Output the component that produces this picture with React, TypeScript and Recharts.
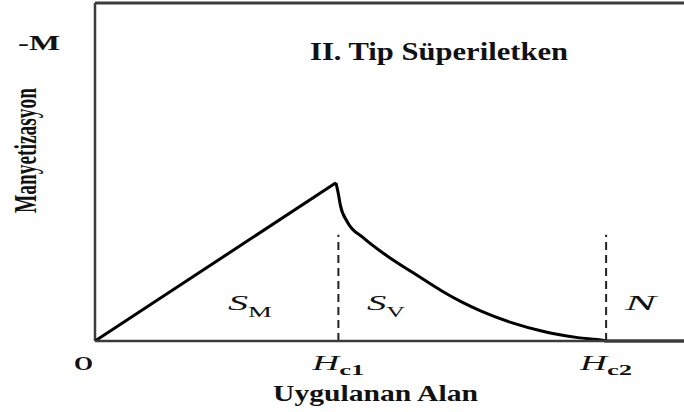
import { LineChart, Line, XAxis, YAxis, ReferenceLine } from 'recharts'

// applied field (in units of Hc1) and -M for the Meissner rise
const riseH = [0, 0.99]
const riseM = [0, 0.468]

// mixed (vortex) state: -M falls from Hc1 to zero at Hc2, then stays at zero
const fallH = [0.99, 1.0, 1.008, 1.037, 1.103, 1.202, 1.309, 1.432, 1.502, 1.584, 1.708, 1.844, 1.984, 2.09, 2.1, 2.42]
const fallM = [0.468, 0.435, 0.402, 0.352, 0.305, 0.251, 0.201, 0.145, 0.117, 0.089, 0.055, 0.028, 0.01, 0.0015, 0, 0]

const HC1 = 1
const HC2 = 2.1
const fieldTicks = [0, HC1, HC2]
const tickSubs = ['', 'c1', 'c2']
const dashTop = 0.314

const riseData = riseH.map((h, i) => ({ h, m: riseM[i] }))
const fallData = fallH.map((h, i) => ({ h, m: fallM[i] }))

const serif = 'Liberation Serif, Times New Roman, serif'
const axisColor = '#3c3c3c'

function FieldTick({ x, y, payload, index }: any) {
  const base = y + 21
  if (payload.value === 0) {
    return (
      <text x={x - 21} y={base} style={{ fontFamily: serif }} fontWeight="bold" fontSize={19} fill="#111" textLength={19} lengthAdjust="spacingAndGlyphs">
        O
      </text>
    )
  }
  return (
    <text x={x - 26} y={base} style={{ fontFamily: serif }} fill="#111" textLength={52} lengthAdjust="spacingAndGlyphs">
      <tspan fontStyle="italic" fontSize={21}>H</tspan>
      <tspan fontSize={15} fontWeight="bold" dy={5}>{tickSubs[index]}</tspan>
    </text>
  )
}

export default function App() {
  return (
    <div style={{ position: 'absolute', left: 0, top: 0, width: 684, height: 412, background: '#fff' }}>
      <LineChart width={684} height={412} margin={{ top: 3, right: 0, bottom: 41, left: 95 }}>
        <XAxis
          type="number"
          dataKey="h"
          domain={[0, 2.42]}
          ticks={fieldTicks}
          tick={<FieldTick />}
          tickLine={false}
          height={30}
          axisLine={{ stroke: axisColor, strokeWidth: 2.5 }}
          allowDataOverflow
        />
        <YAxis hide type="number" domain={[0, 1]} />
        <ReferenceLine x={0} stroke={axisColor} strokeWidth={2.5} />
        <ReferenceLine y={1} stroke={axisColor} strokeWidth={3} />
        <ReferenceLine segment={[{ x: HC1, y: 0 }, { x: HC1, y: dashTop }]} stroke="#222" strokeWidth={2} strokeDasharray="8 5" />
        <ReferenceLine segment={[{ x: HC2, y: 0 }, { x: HC2, y: dashTop }]} stroke="#222" strokeWidth={2} strokeDasharray="8 5" />
        <Line data={riseData} dataKey="m" type="linear" stroke="#000" strokeWidth={3} dot={false} isAnimationActive={false} />
        <Line data={fallData} dataKey="m" type="monotoneX" stroke="#000" strokeWidth={3} dot={false} isAnimationActive={false} />
      </LineChart>
      <svg width={684} height={412} style={{ position: 'absolute', left: 0, top: 0, pointerEvents: 'none', fontFamily: serif }}>
        <g fill="#111">
          <text x={18} y={50} fontSize={22} fontWeight="bold" textLength={42} lengthAdjust="spacingAndGlyphs">-M</text>
          <text transform="translate(36,213) rotate(-90)" fontSize={32} fontWeight="bold" textLength={125} lengthAdjust="spacingAndGlyphs">
            Manyetizasyon
          </text>
          <text x={310} y={60} fontSize={25} fontWeight="bold" textLength={258} lengthAdjust="spacingAndGlyphs">
            II. Tip Süperiletken
          </text>
          <text x={273} y={401} fontSize={24} fontWeight="bold" textLength={205} lengthAdjust="spacingAndGlyphs">
            Uygulanan Alan
          </text>
          <text x={228} y={310} textLength={44} lengthAdjust="spacingAndGlyphs">
            <tspan fontStyle="italic" fontSize={21}>S</tspan>
            <tspan fontSize={14} dy={7}>M</tspan>
          </text>
          <text x={367} y={310} textLength={38} lengthAdjust="spacingAndGlyphs">
            <tspan fontStyle="italic" fontSize={21}>S</tspan>
            <tspan fontSize={14} dy={7}>V</tspan>
          </text>
          <text x={625} y={310} fontSize={22} fontStyle="italic" textLength={31} lengthAdjust="spacingAndGlyphs">N</text>
        </g>
      </svg>
    </div>
  )
}
